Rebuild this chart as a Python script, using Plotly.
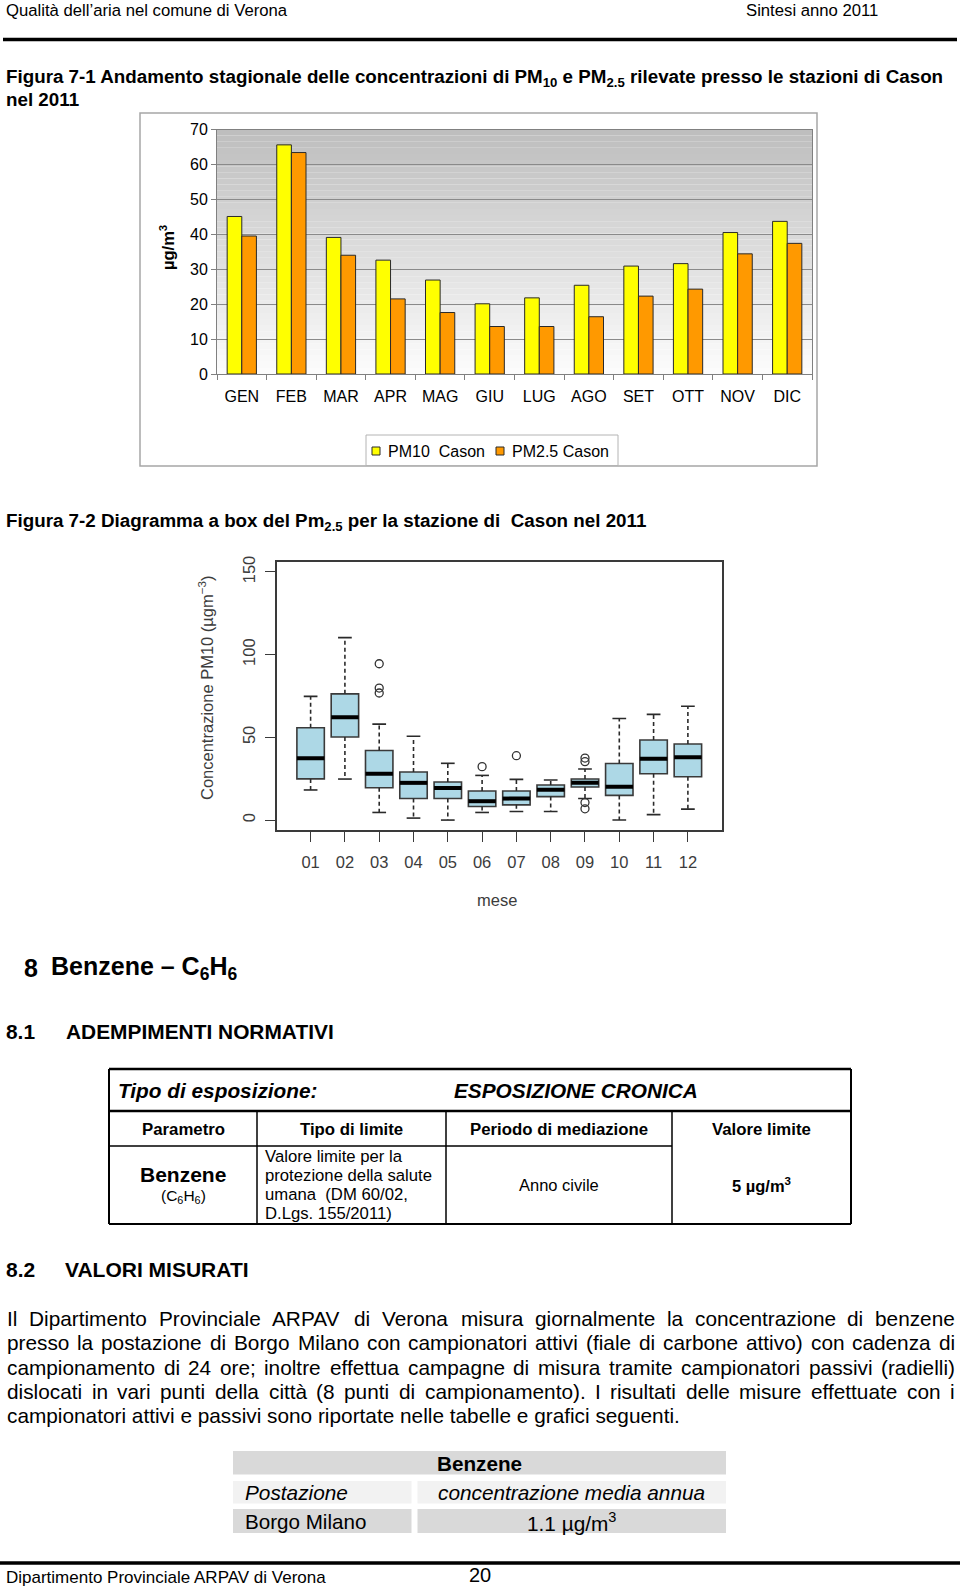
import plotly.graph_objects as go

W, H = 960, 1587
FONT = "Liberation Sans, Arial, Helvetica, sans-serif"


def px(x):
    return x / W


def py(y):
    return 1 - y / H


# ---------------- data ----------------
months = ["GEN", "FEB", "MAR", "APR", "MAG", "GIU", "LUG", "AGO", "SET", "OTT", "NOV", "DIC"]
pm10_cason = [45.1, 65.6, 39.1, 32.6, 26.9, 20.1, 21.8, 25.4, 30.9, 31.6, 40.5, 43.7]
pm25_cason = [39.5, 63.4, 34.0, 21.5, 17.6, 13.6, 13.6, 16.4, 22.3, 24.3, 34.4, 37.4]
series_names = ["PM10\u00a0 Cason", "PM2.5 Cason"]
series_colors = ["#FFFF00", "#FF9900"]

box_labels = ["01", "02", "03", "04", "05", "06", "07", "08", "09", "10", "11", "12"]
box_pos = [1, 2, 3, 4, 5, 6, 7, 8, 9, 10, 11, 12]
box_low = [18.2, 24.8, 4.6, 1.2, 0.0, 4.6, 5.2, 5.2, 13.0, 0.0, 3.3, 6.6]
box_q1 = [24.9, 50.2, 19.5, 13.0, 13.0, 8.2, 9.2, 14.2, 20.0, 14.9, 28.0, 26.2]
box_med = [37.4, 62.1, 28.0, 22.5, 19.4, 11.4, 13.0, 18.4, 22.6, 20.1, 37.1, 38.0]
box_q3 = [55.8, 76.3, 42.1, 29.1, 23.0, 17.6, 17.6, 21.2, 24.8, 34.2, 48.4, 46.0]
box_high = [74.8, 110.3, 58.0, 50.7, 34.3, 27.0, 24.6, 24.2, 30.9, 61.4, 63.9, 68.8]
out_month = [3, 3, 3, 6, 7, 9, 9, 9, 9]
out_value = [94.5, 79.8, 76.8, 32.3, 38.9, 37.5, 35.3, 10.6, 6.8]

para_lines = [
    "Il Dipartimento Provinciale ARPAV di Verona misura giornalmente la concentrazione di benzene",
    "presso la postazione di Borgo Milano con campionatori attivi (fiale di carbone attivo) con cadenza di",
    "campionamento di 24 ore; inoltre effettua campagne di misura tramite campionatori passivi (radielli)",
    "dislocati in vari punti della città (8 punti di campionamento). I risultati delle misure effettuate con i",
    "campionatori attivi e passivi sono riportate nelle tabelle e grafici seguenti.",
]

# Arial / Liberation Sans regular advance widths (1/1000 em)
AW = {" ": 278, "(": 333, ")": 333, ".": 278, ",": 278, ";": 278, ":": 278, "-": 333, "/": 278,
      "A": 667, "B": 667, "C": 722, "D": 722, "E": 667, "F": 611, "G": 778, "H": 722, "I": 278,
      "J": 500, "K": 667, "L": 556, "M": 833, "N": 722, "O": 778, "P": 667, "Q": 778, "R": 722,
      "S": 667, "T": 611, "U": 722, "V": 667, "W": 944, "X": 667, "Y": 667, "Z": 611,
      "a": 556, "b": 556, "c": 500, "d": 556, "e": 556, "f": 278, "g": 556, "h": 556, "i": 222,
      "j": 222, "k": 500, "l": 222, "m": 833, "n": 556, "o": 556, "p": 556, "q": 556, "r": 333,
      "s": 500, "t": 278, "u": 556, "v": 500, "w": 722, "x": 500, "y": 500, "z": 500, "à": 556}
for d in "0123456789":
    AW[d] = 556


def text_w(s, fs):
    return sum(AW.get(c, 556) for c in s) * fs / 1000.0


fig = go.Figure()

# ---------------- bar chart (Figura 7-1) ----------------
for vals, nm, col in zip([pm10_cason, pm25_cason], series_names, series_colors):
    fig.add_trace(go.Bar(x=months, y=vals, name=nm,
                         marker=dict(color=col, line=dict(color="#2a2a2a", width=1)),
                         showlegend=False, xaxis="x", yaxis="y"))

# ---------------- box plot (Figura 7-2) ----------------
fig.add_trace(go.Box(x=box_pos, q1=box_q1, median=box_med, q3=box_q3,
                     lowerfence=box_q1, upperfence=box_q3, width=0.8,
                     fillcolor="#ADD8E6", line=dict(color="#3a3a3a", width=1.6),
                     boxpoints=False, whiskerwidth=0, showlegend=False,
                     hoverinfo="skip", xaxis="x2", yaxis="y2"))

wx, wy, cx, cy, mx, my = [], [], [], [], [], []
for p, lo, a, m, b, hi in zip(box_pos, box_low, box_q1, box_med, box_q3, box_high):
    wx += [p, p, None, p, p, None]
    wy += [b, hi, None, a, lo, None]
    cx += [p - 0.2, p + 0.2, None, p - 0.2, p + 0.2, None]
    cy += [hi, hi, None, lo, lo, None]
    mx += [p - 0.4, p + 0.4, None]
    my += [m, m, None]

fig.add_trace(go.Scatter(x=wx, y=wy, mode="lines", line=dict(color="#2a2a2a", width=1.6, dash="4px,3px"),
                         showlegend=False, hoverinfo="skip", xaxis="x2", yaxis="y2"))
fig.add_trace(go.Scatter(x=cx, y=cy, mode="lines", line=dict(color="#2a2a2a", width=1.6),
                         showlegend=False, hoverinfo="skip", xaxis="x2", yaxis="y2"))
fig.add_trace(go.Scatter(x=mx, y=my, mode="lines", line=dict(color="#000000", width=4),
                         showlegend=False, hoverinfo="skip", xaxis="x2", yaxis="y2"))
fig.add_trace(go.Scatter(x=out_month, y=out_value, mode="markers",
                         marker=dict(symbol="circle-open", size=8, color="#333333", line=dict(width=1.3)),
                         showlegend=False, hoverinfo="skip", xaxis="x2", yaxis="y2"))

shapes = []
annotations = []


def ann(x, y, text, size=16, xanchor="left", bold=False, italic=False, color="#000000", angle=0):
    t = text
    if bold:
        t = "<b>" + t + "</b>"
    if italic:
        t = "<i>" + t + "</i>"
    annotations.append(dict(x=px(x), y=py(y), xref="paper", yref="paper", text=t, showarrow=False,
                            xanchor=xanchor, yanchor="middle", textangle=angle,
                            font=dict(family=FONT, size=size, color=color)))


def line(x0, y0, x1, y1, w=1.5, color="#000000"):
    shapes.append(dict(type="line", xref="paper", yref="paper", x0=px(x0), y0=py(y0), x1=px(x1), y1=py(y1),
                       line=dict(color=color, width=w)))


def rect(x0, y0, x1, y1, fill=None, lc=None, lw=0, layer="below"):
    d = dict(type="rect", xref="paper", yref="paper", x0=px(x0), y0=py(y0), x1=px(x1), y1=py(y1),
             layer=layer, line=dict(width=lw, color=lc or "rgba(0,0,0,0)"))
    if fill:
        d["fillcolor"] = fill
    shapes.append(d)


# page header / footer
ann(4, 11, "Qualità dell’aria nel comune di Verona", 16.7)
ann(880, 11, "Sintesi anno 2011", 16.7, xanchor="right")
line(3, 39.5, 957, 39.5, w=3.5)
line(0, 1563, 960, 1563, w=3.5)
ann(4, 1577, "Dipartimento Provinciale ARPAV di Verona", 17)
ann(479.5, 1575, "20", 20, xanchor="center")

# figure captions
ann(4, 78, "Figura 7-1 Andamento stagionale delle concentrazioni di PM<sub>10</sub> e PM<sub>2.5</sub> "
           "rilevate presso le stazioni di Cason", 18.8, bold=True)
ann(4, 99, "nel 2011", 18.8, bold=True)
ann(4, 522, "Figura 7-2 Diagramma a box del Pm<sub>2.5</sub> per la stazione di  Cason nel 2011", 18.8, bold=True)

# bar chart frame and gradient background
rect(140, 113, 817, 466, fill="#ffffff", lc="#a6a6a6", lw=1.5)
N = 40
for i in range(N):
    t = i / (N - 1)
    g = int(round(0xbe + (0xfc - 0xbe) * t))
    shapes.append(dict(type="rect", xref="x domain", yref="y domain", x0=0, x1=1,
                       y0=1 - (i + 1) / N, y1=1 - i / N, layer="below",
                       fillcolor="rgb(%d,%d,%d)" % (g, g, g), line=dict(width=0)))
ann(167, 248, "µg/m<sup>3</sup>", 16.5, xanchor="center", bold=True, angle=-90)

# bar chart legend box (drawn by hand to match the compact spreadsheet legend)
rect(366, 435, 618, 465.5, fill="#ffffff", lc="#b4b4b4", lw=1, layer="above")
for xs, nm, col in zip([372, 496], series_names, series_colors):
    rect(xs, 447, xs + 8, 455, fill=col, lc="#2a2a2a", lw=1, layer="above")
    ann(xs + 14, 451, nm, 16)

# box plot labels
ann(206, 688, "Concentrazione PM10 (µgm<sup>−3</sup>)", 16.5, xanchor="center", color="#3c3c3c", angle=-90)
ann(497, 900, "mese", 16.5, xanchor="center", color="#3c3c3c")

# section 8
ann(22, 968, "8", 25, bold=True)
ann(49, 968, "Benzene – C<sub>6</sub>H<sub>6</sub>", 25, bold=True)
ann(4, 1031, "8.1", 20.9, bold=True)
ann(64, 1031, "ADEMPIMENTI NORMATIVI", 20.9, bold=True)

# table 1
line(109, 1069, 851, 1069, w=2.5)
line(109, 1111, 851, 1111, w=2.5)
line(109, 1069, 109, 1224, w=2)
line(851, 1069, 851, 1224, w=2)
line(109, 1224, 851, 1224, w=2)
line(109, 1146, 672, 1146, w=1.5)
for xv in (257, 446, 672):
    line(xv, 1111, xv, 1224, w=1.5)
ann(116, 1090, "Tipo di esposizione:", 20.8, bold=True, italic=True)
ann(576, 1090, "ESPOSIZIONE CRONICA", 20.8, xanchor="center", bold=True, italic=True)
ann(183, 1129, "Parametro", 16.8, xanchor="center", bold=True)
ann(351.5, 1129, "Tipo di limite", 16.8, xanchor="center", bold=True)
ann(559, 1129, "Periodo di mediazione", 16.8, xanchor="center", bold=True)
ann(761, 1129, "Valore limite", 16.8, xanchor="center", bold=True)
ann(183, 1174, "Benzene", 21, xanchor="center", bold=True)
ann(183, 1196, "(C<sub>6</sub>H<sub>6</sub>)", 15.5, xanchor="center")
for i, s in enumerate(["Valore limite per la", "protezione della salute", "umana\u00a0 (DM 60/02,",
                       "D.Lgs. 155/2011)"]):
    ann(263, 1156.5 + i * 19, s, 16.7)
ann(559, 1185, "Anno civile", 16.5, xanchor="center")
ann(761, 1185, "5 µg/m<sup>3</sup>", 16.5, xanchor="center", bold=True)

# section 8.2
ann(4, 1269, "8.2", 21, bold=True)
ann(63, 1269, "VALORI MISURATI", 21, bold=True)

# justified paragraph
P_X0, P_X1 = 5, 953
fs_par = 20.8
line_y = [1318, 1342.5, 1367, 1391, 1415]
for li, (s, yv) in enumerate(zip(para_lines, line_y)):
    if li == len(para_lines) - 1:
        ann(P_X0, yv, s, fs_par)
        continue
    words = s.split(" ")
    widths = [text_w(w_, fs_par) for w_ in words]
    gap = (P_X1 - P_X0 - sum(widths)) / (len(words) - 1)
    xcur = P_X0
    for w_, ww in zip(words, widths):
        ann(xcur, yv, w_, fs_par)
        xcur += ww + gap

# table 2 (Benzene mean)
rect(233, 1451, 726, 1474.5, fill="#d9d9d9")
rect(233, 1481, 411.5, 1503.5, fill="#f2f2f2")
rect(417.5, 1481, 726, 1503.5, fill="#f2f2f2")
rect(233, 1509, 411.5, 1533, fill="#d9d9d9")
rect(417.5, 1509, 726, 1533, fill="#d9d9d9")
ann(479.5, 1463, "Benzene", 20.7, xanchor="center", bold=True)
ann(243, 1492, "Postazione", 20.8, italic=True)
ann(571, 1492, "concentrazione media annua", 20.8, xanchor="center", italic=True)
ann(243, 1521.5, "Borgo Milano", 20.6)
ann(571, 1521.5, "1.1 µg/m<sup>3</sup>", 20.8, xanchor="center")

fig.update_layout(
    width=W, height=H, autosize=False,
    margin=dict(l=0, r=0, t=0, b=0, pad=0, autoexpand=False),
    paper_bgcolor="#ffffff", plot_bgcolor="rgba(0,0,0,0)",
    font=dict(family=FONT, size=16, color="#000000"),
    barmode="group", bargap=0.41, bargroupgap=0,
    showlegend=False,
    xaxis=dict(domain=[px(217), px(812)], anchor="y", type="category", automargin=False,
               showline=True, linecolor="#808080", linewidth=1, mirror=True,
               ticks="outside", tickson="boundaries", ticklen=5, tickcolor="#808080",
               tickfont=dict(family=FONT, size=16, color="#000000"), ticklabelstandoff=8,
               showgrid=False, fixedrange=True),
    yaxis=dict(domain=[py(374), py(129.5)], anchor="x", range=[0, 70], dtick=10, automargin=False,
               showline=True, linecolor="#808080", linewidth=1, mirror=True,
               ticks="outside", ticklen=5, tickcolor="#808080",
               tickfont=dict(family=FONT, size=16, color="#000000"),
               showgrid=True, gridcolor="#8a8a8a", gridwidth=1, zeroline=False, fixedrange=True),
    xaxis2=dict(domain=[px(277), px(721.5)], anchor="y2", range=[0.02, 12.98], automargin=False,
                tickmode="array", tickvals=box_pos, ticktext=box_labels,
                showline=True, linecolor="#3a3a3a", linewidth=1.5, mirror=True,
                ticks="outside", ticklen=10, tickcolor="#3a3a3a", tickwidth=1.3,
                tickfont=dict(family=FONT, size=16.5, color="#3c3c3c"), ticklabelstandoff=6,
                showgrid=False, zeroline=False, fixedrange=True),
    yaxis2=dict(domain=[py(830), py(562)], anchor="x2", range=[-6, 156], automargin=False,
                tickmode="array", tickvals=[0, 50, 100, 150],
                showline=True, linecolor="#3a3a3a", linewidth=1.5, mirror=True,
                ticks="outside", ticklen=10, tickcolor="#3a3a3a", tickwidth=1.3, tickangle=-90,
                tickfont=dict(family=FONT, size=16.5, color="#3c3c3c"), ticklabelstandoff=4,
                showgrid=False, zeroline=False, fixedrange=True),
    shapes=shapes, annotations=annotations,
)

fig.write_html("out.html", config={"displayModeBar": False},
               post_script="document.body.style.margin='0';document.body.style.overflow='hidden';")
